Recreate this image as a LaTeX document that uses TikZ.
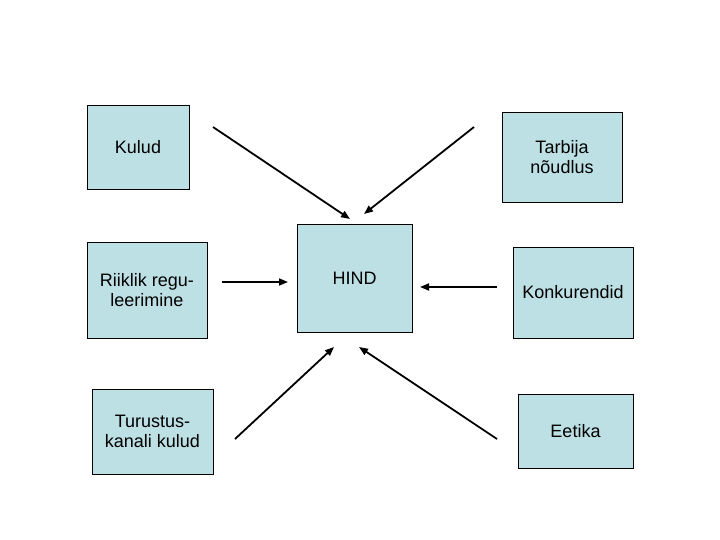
\documentclass[tikz,border=0pt]{standalone}
\usepackage{fontspec}
\setmainfont{Liberation Sans}
\usetikzlibrary{arrows.meta}
\definecolor{boxblue}{RGB}{189,224,228}
\tikzset{
BOX/.style={draw=black, line width=0.8pt, fill=boxblue, inner sep=0pt,
	font=\fontsize{18}{20}\selectfont, align=center},
ARR/.style={draw=black, line width=1.8pt, -{Triangle[length=9pt,width=7pt]}},
}
\begin{document}
\begin{tikzpicture}
[x=1pt, y=-1pt]
	\useasboundingbox (0,0) rectangle (720,540);
	% boxes
	\node[BOX, minimum width=102, minimum height=84] (kulud) at (138,147) {Kulud};
	\node[BOX, minimum width=120, minimum height=90] (tarbija) at (562,157) {Tarbija\\ nõudlus};
	\node[BOX, minimum width=120, minimum height=96] (riiklik) at (147,290) {Riiklik regu-\\leerimine};
	\node[BOX, minimum width=115, minimum height=108] (hind) at (354.5,278.5) {HIND};
	\node[BOX, minimum width=120, minimum height=91] (konkur) at (573,292.5) {Konkurendid};
	\node[BOX, minimum width=121, minimum height=85] (turustus) at (152.5,431.5) {Turustus-\\kanali kulud};
	\node[BOX, minimum width=115, minimum height=74] (eetika) at (575.5,431) {Eetika};
	% arrow ends
	\coordinate (a1) at (213,127);  \coordinate (b1) at (350,219);
	\coordinate (a2) at (474,127);  \coordinate (b2) at (364,214);
	\coordinate (a3) at (222,282);  \coordinate (b3) at (288,282);
	\coordinate (a4) at (497,287);  \coordinate (b4) at (420,287);
	\coordinate (a5) at (235,439);  \coordinate (b5) at (334,347);
	\coordinate (a6) at (497,439);  \coordinate (b6) at (359,347);
	\foreach \i in {1,...,6}
		\draw[ARR] (a\i) -- (b\i);
\end{tikzpicture}
\end{document}
